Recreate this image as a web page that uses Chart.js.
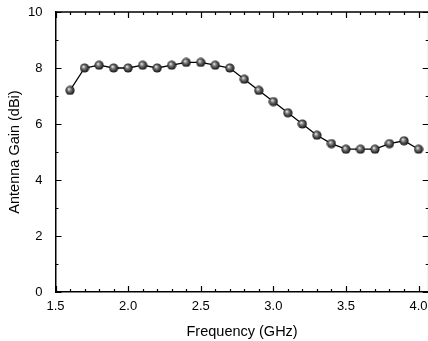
<!DOCTYPE html>
<html>
<head>
<meta charset="utf-8">
<script src="https://cdn.jsdelivr.net/npm/chart.js@4"></script>
<style>
  html, body { margin: 0; padding: 0; background: #fff; overflow: hidden; }
  #wrap { width: 435px; height: 341px; }
</style>
</head>
<body>
<div id="wrap"><canvas id="myChart"></canvas></div>
<script>
const frequency = [1.6, 1.7, 1.8, 1.9, 2.0, 2.1, 2.2, 2.3, 2.4, 2.5, 2.6, 2.7, 2.8,
                   2.9, 3.0, 3.1, 3.2, 3.3, 3.4, 3.5, 3.6, 3.7, 3.8, 3.9, 4.0];
const gain = [7.2, 8.0, 8.1, 8.0, 8.0, 8.1, 8.0, 8.1, 8.2, 8.2, 8.1, 8.0, 7.6,
              7.2, 6.8, 6.4, 6.0, 5.6, 5.3, 5.1, 5.1, 5.1, 5.3, 5.4, 5.1];
const xTickLabels = [1.5, 2.0, 2.5, 3.0, 3.5, 4.0];
const yTickLabels = [0, 2, 4, 6, 8, 10];

// shaded ball marker
const ball = document.createElement('canvas');
ball.width = 10; ball.height = 10;
const bctx = ball.getContext('2d');
const grad = bctx.createRadialGradient(3.8, 3.6, 0.3, 5, 5, 5);
grad.addColorStop(0, '#e8e8e8');
grad.addColorStop(0.35, '#777');
grad.addColorStop(1, '#000');
bctx.fillStyle = grad;
bctx.beginPath();
bctx.arc(5, 5, 4.6, 0, Math.PI * 2);
bctx.fill();

// inward ticks on all four sides, plus top/right frame
const frameTicks = {
    id: 'frameTicks',
    afterDraw(chart) {
        const { ctx, chartArea: a, scales: { x, y } } = chart;
        ctx.save();
        ctx.strokeStyle = '#000';
        ctx.lineWidth = 1.2;
        ctx.beginPath();
        for (let i = 15; i <= 40; i++) {
            const v = i / 10;
            const px = Math.round(x.getPixelForValue(v)) + 0.5;
            const len = i % 5 === 0 ? 6 : 3;
            ctx.moveTo(px, a.bottom); ctx.lineTo(px, a.bottom - len);
            ctx.moveTo(px, a.top); ctx.lineTo(px, a.top + len);
        }
        for (let v = 0; v <= 10; v++) {
            const py = Math.round(y.getPixelForValue(v)) + 0.5;
            const len = v % 2 === 0 ? 6 : 3;
            ctx.moveTo(a.left, py); ctx.lineTo(a.left + len, py);
            ctx.moveTo(a.right, py); ctx.lineTo(a.right - len, py);
        }
        ctx.stroke();
        ctx.lineWidth = 1.5;
        ctx.beginPath();
        ctx.moveTo(a.left, a.top); ctx.lineTo(a.right, a.top); ctx.lineTo(a.right, a.bottom);
        ctx.stroke();
        ctx.restore();
    }
};

const tickFont = { family: '"Liberation Sans", Arial, sans-serif', size: 13 };
const titleFont = { family: '"Liberation Sans", Arial, sans-serif', size: 14.5 };

const config = {
    type: 'line',
    data: {
        datasets: [{
            data: frequency.map((f, i) => ({ x: f, y: gain[i] })),
            borderColor: '#000',
            borderWidth: 1.3,
            pointStyle: ball,
            pointRadius: 5,
            pointHoverRadius: 5,
            tension: 0
        }]
    },
    options: {
        responsive: true,
        maintainAspectRatio: false,
        animation: false,
        layout: { padding: { top: 12, right: 0, left: 0, bottom: 0 } },
        plugins: { legend: { display: false }, tooltip: { enabled: false } },
        scales: {
            x: {
                type: 'linear',
                min: 1.5,
                max: 4.07,
                afterBuildTicks: s => { s.ticks = xTickLabels.map(v => ({ value: v })); },
                afterFit: s => { s.height = 49; s.paddingRight = 0; s.paddingLeft = 0; },
                grid: { display: false },
                border: { display: true, color: '#000', width: 1.5 },
                ticks: {
                    color: '#000', font: tickFont, padding: -1, maxRotation: 0,
                    callback: v => v.toFixed(1)
                },
                title: {
                    display: true, text: 'Frequency (GHz)', color: '#000', font: titleFont,
                    padding: { top: 1, bottom: 0 }
                }
            },
            y: {
                min: 0,
                max: 10,
                afterBuildTicks: s => { s.ticks = yTickLabels.map(v => ({ value: v })); },
                afterFit: s => { s.width = 55.5; s.paddingTop = 0; s.paddingBottom = 0; },
                grid: { display: false },
                border: { display: true, color: '#000', width: 1.5 },
                ticks: { color: '#000', font: tickFont, padding: 5 },
                title: {
                    display: true, text: 'Antenna Gain (dBi)', color: '#000', font: titleFont,
                    padding: { top: 6, bottom: 0 }
                }
            }
        }
    },
    plugins: [frameTicks]
};

new Chart(document.getElementById('myChart').getContext('2d'), config);
</script>
</body>
</html>
